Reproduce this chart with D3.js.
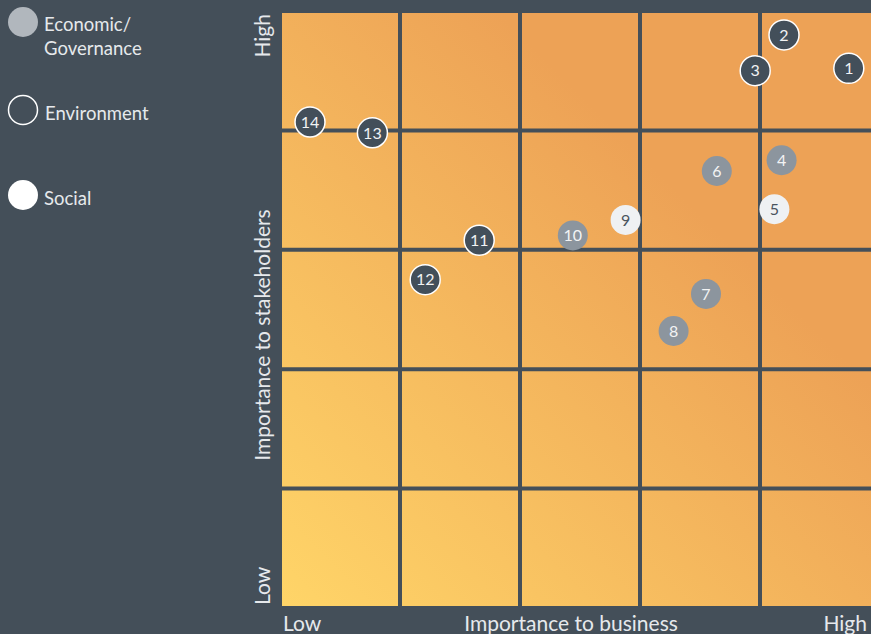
<!DOCTYPE html>
<html>
<head>
<meta charset="utf-8">
<script src="https://cdn.jsdelivr.net/npm/d3@7"></script>
<style>
  html, body { margin: 0; padding: 0; background: #444f59; overflow: hidden; }
  svg { display: block; }
  text { font-family: Lato, "Open Sans", sans-serif; }
</style>
</head>
<body>
<svg id="chart" width="871" height="634"></svg>
<script>
// ---- data ----
const ids        = [1, 2, 3, 4, 5, 6, 7, 8, 9, 10, 11, 12, 13, 14];
const business   = [4.74, 4.20, 3.96, 4.18, 4.12, 3.64, 3.55, 3.28, 2.88, 2.44, 1.66, 1.21, 0.77, 0.25];
const stakeholder= [4.52, 4.80, 4.50, 3.75, 3.34, 3.66, 2.63, 2.32, 3.25, 3.12, 3.08, 2.75, 3.98, 4.07];
const category   = ["Environment","Environment","Environment","Economic/Governance","Social","Economic/Governance",
                    "Economic/Governance","Economic/Governance","Social","Economic/Governance","Environment",
                    "Environment","Environment","Environment"];
const legendLabels = [["Economic/", "Governance"], ["Environment"], ["Social"]];
const legendCats   = ["Economic/Governance", "Environment", "Social"];
const gridLevels   = [1, 2, 3, 4];
const xAxisLabels  = ["Low", "Importance to business", "High"];
const yAxisLabels  = ["Low", "Importance to stakeholders", "High"];

// ---- styles ----
const bg = "#444f59";
const pointFill   = {"Economic/Governance": "#8c959e", "Environment": "#434f5a", "Social": "#eff1f3"};
const pointStroke = {"Economic/Governance": "none", "Environment": "#ffffff", "Social": "none"};
const pointText   = {"Economic/Governance": "#f2f3f4", "Environment": "#f2f3f4", "Social": "#4a545e"};
const legendFill  = {"Economic/Governance": "#b1b7bd", "Environment": "none", "Social": "#ffffff"};
const legendStroke= {"Economic/Governance": "none", "Environment": "#ffffff", "Social": "none"};
const textColor = "#e6e9ec";

const svg = d3.select("#chart");
const x = d3.scaleLinear().domain([0, 5]).range([280, 880]);
const y = d3.scaleLinear().domain([0, 5]).range([608, 11]);

// gradient
const defs = svg.append("defs");
const grad = defs.append("linearGradient").attr("id", "g").attr("gradientUnits", "userSpaceOnUse")
  .attr("x1", x(0)).attr("y1", y(0)).attr("x2", x(3.4)).attr("y2", y(3.4));
grad.append("stop").attr("offset", 0).attr("stop-color", "#ffd568");
grad.append("stop").attr("offset", 1).attr("stop-color", "#eda256");

// background plot area
svg.append("rect").attr("x", x(0) + 2).attr("y", y(5) + 2)
  .attr("width", x(5) - x(0) - 4).attr("height", y(0) - y(5) - 4)
  .attr("fill", "url(#g)");

// grid lines
svg.append("g").selectAll("line.v").data(gridLevels).join("line")
  .attr("x1", d => x(d)).attr("x2", d => x(d)).attr("y1", y(5)).attr("y2", y(0))
  .attr("stroke", bg).attr("stroke-width", 4);
svg.append("g").selectAll("line.h").data(gridLevels).join("line")
  .attr("y1", d => y(d)).attr("y2", d => y(d)).attr("x1", x(0)).attr("x2", x(5))
  .attr("stroke", bg).attr("stroke-width", 4);

// points
const pts = ids.map((id, i) => ({id, bx: business[i], sy: stakeholder[i], c: category[i]}));
const pg = svg.append("g").selectAll("g").data(pts).join("g")
  .attr("transform", d => `translate(${x(d.bx)},${y(d.sy)})`);
pg.append("circle").attr("r", 15)
  .attr("fill", d => pointFill[d.c]).attr("stroke", d => pointStroke[d.c]).attr("stroke-width", 1.5);
pg.append("text").text(d => d.id).attr("text-anchor", "middle").attr("dy", "0.36em")
  .attr("font-size", 16).attr("fill", d => pointText[d.c]);

// axis labels
const xl = svg.append("g").attr("fill", textColor).attr("font-size", 21);
xl.append("text").attr("x", 283).attr("y", 631).text(xAxisLabels[0]);
xl.append("text").attr("x", 571).attr("y", 631).attr("text-anchor", "middle").text(xAxisLabels[1]);
xl.append("text").attr("x", 867).attr("y", 631).attr("text-anchor", "end").text(xAxisLabels[2]);

const yl = svg.append("g").attr("fill", textColor).attr("font-size", 21);
yl.append("text").attr("transform", "translate(270,605) rotate(-90)").text(yAxisLabels[0]);
yl.append("text").attr("transform", "translate(270,335) rotate(-90)").attr("text-anchor", "middle").text(yAxisLabels[1]);
yl.append("text").attr("transform", "translate(270,14) rotate(-90)").attr("text-anchor", "end").text(yAxisLabels[2]);

// legend
const legY = [22, 110, 195];
const lg = svg.append("g").selectAll("g").data(legendCats).join("g")
  .attr("transform", (d, i) => `translate(23,${legY[i]})`);
lg.append("circle").attr("r", d => d === "Environment" ? 14.5 : 15)
  .attr("fill", d => legendFill[d]).attr("stroke", d => legendStroke[d]).attr("stroke-width", 1.5);
lg.each(function(d, i) {
  const t = d3.select(this).append("text").attr("fill", textColor).attr("font-size", 18.5)
    .attr("x", i === 1 ? 22 : 21).attr("y", i === 0 ? 9 : 9.5);
  legendLabels[i].forEach((s, j) => t.append("tspan").attr("x", i === 1 ? 22 : 21).attr("dy", j === 0 ? 0 : 24).text(s));
});
</script>
</body>
</html>
